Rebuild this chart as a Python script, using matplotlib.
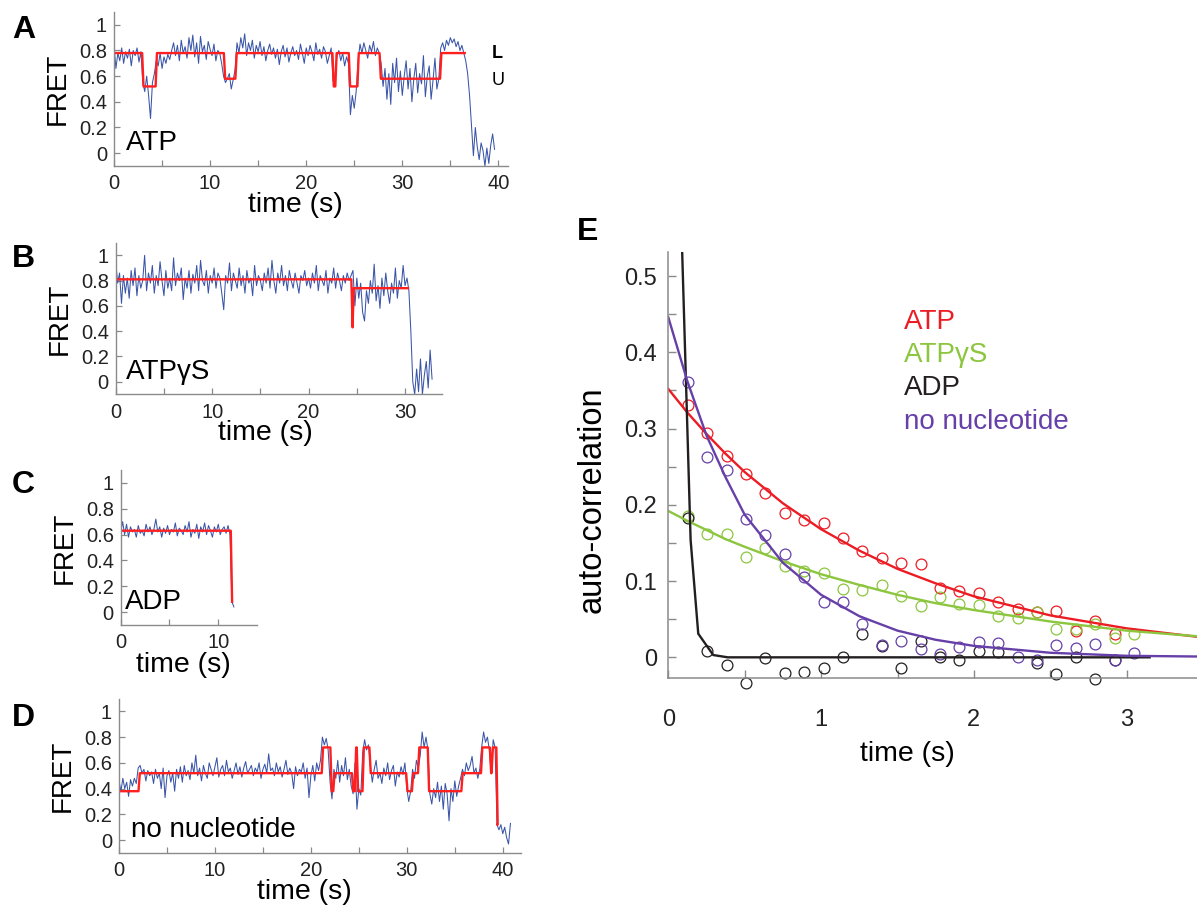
import numpy as np
import matplotlib
matplotlib.use('Agg')
import matplotlib.pyplot as plt
from matplotlib.ticker import MultipleLocator, FuncFormatter

plt.rcParams['font.family'] = ['Liberation Sans', 'DejaVu Sans']

# ---- single-molecule FRET traces, one frame every 0.2 s ----
DT = 0.2
atp_trace = [
    0.84, 0.66, 0.78, 0.72, 0.82, 0.70, 0.79, 0.74, 0.81, 0.68, 0.80, 0.76, 0.82, 0.71, 0.79,
    0.55, 0.48, 0.60, 0.45, 0.27, 0.55, 0.62,
    0.72, 0.68, 0.78, 0.66, 0.75, 0.70, 0.77, 0.73,
    0.80, 0.86, 0.76, 0.84, 0.72, 0.88, 0.78, 0.83, 0.74, 0.90,
    0.80, 0.92, 0.75, 0.86, 0.70, 0.91, 0.79, 0.84, 0.73, 0.87,
    0.81, 0.76, 0.85, 0.72, 0.80, 0.78, 0.70,
    0.60, 0.55, 0.58, 0.62, 0.50, 0.57, 0.65,
    0.86, 0.78, 0.90, 0.82, 0.93, 0.76, 0.86, 0.80, 0.88, 0.74,
    0.84, 0.79, 0.87, 0.76, 0.83, 0.72, 0.80, 0.85, 0.77, 0.82,
    0.74, 0.81, 0.69, 0.79, 0.84, 0.75, 0.82, 0.71, 0.78, 0.83,
    0.76, 0.80, 0.73, 0.85, 0.78, 0.70, 0.82, 0.76, 0.84, 0.79,
    0.72, 0.86, 0.77, 0.81, 0.74, 0.83, 0.79, 0.70, 0.76, 0.82,
    0.56, 0.60,
    0.76, 0.80, 0.72, 0.78, 0.68, 0.75, 0.70,
    0.30, 0.45, 0.35, 0.48,
    0.72, 0.85, 0.78, 0.86, 0.80, 0.74, 0.84, 0.79, 0.87, 0.76, 0.82, 0.78,
    0.70, 0.52, 0.66, 0.42, 0.62, 0.38, 0.70, 0.55, 0.74, 0.48,
    0.64, 0.45, 0.60, 0.72, 0.50, 0.66, 0.40, 0.58, 0.70, 0.47,
    0.62, 0.54, 0.76, 0.44, 0.60, 0.68, 0.42, 0.57, 0.74, 0.50, 0.58,
    0.82, 0.86, 0.80, 0.88, 0.84, 0.90, 0.86, 0.89, 0.83, 0.87, 0.80, 0.84, 0.78,
    0.72, 0.62, 0.45, 0.22,
    -0.02, 0.20, 0.05, -0.05, 0.08, 0.02, -0.10, 0.04, -0.08, 0.06, 0.15, 0.03,
]
atpgs_trace = [
    0.95, 0.78, 0.86, 0.62, 0.84, 0.70, 0.82, 0.66, 0.88, 0.76,
    0.90, 0.68, 0.84, 0.74, 0.80, 1.00, 0.72, 0.86, 0.78, 0.92,
    0.70, 0.84, 0.76, 0.95, 0.80, 0.68, 0.88, 0.74, 0.82, 0.72,
    0.98, 0.76, 0.86, 0.80, 0.90, 0.65, 0.82, 0.74, 0.88, 0.70,
    0.85, 0.78, 0.92, 0.72, 0.96, 0.80, 0.76, 0.88, 0.70, 0.84,
    0.78, 0.90, 0.74, 0.86, 0.82, 0.70, 0.57, 0.84, 0.78, 0.94,
    0.72, 0.86, 0.80, 0.74, 0.90, 0.76, 0.84, 0.70, 0.88, 0.78,
    0.82, 0.68, 0.92, 0.76, 0.84, 0.80, 0.72, 0.86, 0.78, 0.90,
    0.74, 0.96, 0.80, 0.70, 0.86, 0.78, 0.92, 0.76, 0.84, 0.72,
    0.88, 0.80, 0.74, 0.86, 0.78, 0.70, 0.84, 0.80, 0.88, 0.76,
    0.82, 0.74, 0.86, 0.78, 0.92, 0.72, 0.84, 0.80, 0.76, 0.88,
    0.70, 0.82, 0.78, 0.90, 0.74, 0.86, 0.80, 0.72, 0.84, 0.78,
    0.86, 0.80, 0.84,
    0.88, 0.60, 0.82, 0.66, 0.78, 0.55, 0.48, 0.72, 0.62, 0.80,
    0.70, 0.93, 0.64, 0.76, 0.58, 0.82, 0.68, 0.86, 0.72, 0.62,
    0.78, 0.70, 0.90, 0.66, 0.80, 0.74, 0.92, 0.76, 0.82,
    0.72, 0.40, 0.00,
    -0.10, 0.10, -0.08, 0.18, -0.10, 0.05, 0.16, -0.05, 0.25, 0.02,
]
adp_trace = [
    0.62, 0.70, 0.60, 0.68, 0.58, 0.66, 0.62, 0.64, 0.58, 0.67,
    0.61, 0.63, 0.59, 0.68, 0.62, 0.66, 0.60, 0.64, 0.72, 0.62,
    0.66, 0.58, 0.65, 0.61, 0.67, 0.60, 0.64, 0.62, 0.69, 0.59,
    0.65, 0.63, 0.60, 0.67, 0.62, 0.70, 0.58, 0.64, 0.61, 0.68,
    0.57, 0.66, 0.62, 0.69, 0.60, 0.67, 0.63, 0.58, 0.66, 0.62,
    0.68, 0.60, 0.64, 0.66, 0.61, 0.67, 0.60,
    0.08, 0.04,
]
none_trace = [
    0.46, 0.38, 0.48, 0.40, 0.45, 0.34, 0.47, 0.42, 0.48, 0.44,
    0.56, 0.58, 0.52, 0.55, 0.46, 0.54, 0.50, 0.53, 0.44, 0.55,
    0.48, 0.52, 0.40, 0.56, 0.33, 0.50, 0.54, 0.45, 0.52, 0.38,
    0.55, 0.48, 0.57, 0.45, 0.58, 0.50, 0.54, 0.47, 0.60, 0.52,
    0.66, 0.50, 0.56, 0.46, 0.58, 0.52, 0.48, 0.60, 0.55, 0.50,
    0.57, 0.64, 0.49, 0.55, 0.58, 0.50, 0.62, 0.53, 0.56, 0.48,
    0.54, 0.60, 0.51, 0.57, 0.49, 0.56, 0.61, 0.52, 0.55, 0.58,
    0.50, 0.56, 0.53, 0.60, 0.48, 0.55, 0.59, 0.52, 0.67, 0.54,
    0.56, 0.50, 0.60, 0.53, 0.57, 0.49, 0.55, 0.62, 0.51, 0.56,
    0.52, 0.40, 0.57, 0.50, 0.55, 0.53, 0.60, 0.48, 0.56, 0.33,
    0.50, 0.58, 0.46, 0.60, 0.54,
    0.62, 0.80, 0.74, 0.79, 0.70,
    0.45, 0.32,
    0.55, 0.48, 0.62, 0.45, 0.58, 0.50, 0.64, 0.47, 0.55, 0.42,
    0.36, 0.60, 0.24, 0.40, 0.35,
    0.68, 0.78, 0.70, 0.74,
    0.58, 0.45, 0.55, 0.62, 0.48, 0.52, 0.44, 0.56, 0.50, 0.60,
    0.47, 0.54, 0.58, 0.42, 0.53, 0.49, 0.57, 0.51, 0.60,
    0.40, 0.30, 0.38,
    0.55, 0.48, 0.62, 0.56,
    0.66, 0.84, 0.72, 0.80, 0.70,
    0.36, 0.28, 0.40, 0.33, 0.45, 0.30, 0.42, 0.24, 0.44, 0.36,
    0.15, 0.40, 0.30, 0.46, 0.34, 0.42, 0.48,
    0.55, 0.50, 0.60, 0.54, 0.58, 0.65, 0.52, 0.56, 0.48, 0.55,
    0.72, 0.84, 0.76, 0.80, 0.70,
    0.52,
    0.78, 0.72,
    0.12, 0.08, 0.12, 0.05, 0.10, 0.02, -0.03, 0.13,
]

# idealized state paths: dwell start times (s), FRET level, end time
atp_state_t = [0, 3.0, 4.4, 11.5, 12.7, 22.8, 23.1, 24.5, 25.4, 27.7, 34.0]
atp_state_v = [0.78, 0.52, 0.78, 0.58, 0.78, 0.52, 0.78, 0.52, 0.78, 0.58, 0.78]
atp_state_end = 36.5
atpgs_state_t = [0, 24.5, 24.62]
atpgs_state_v = [0.81, 0.43, 0.74]
atpgs_state_end = 30.3
adp_state_t = [0, 11.35]
adp_state_v = [0.63, 0.08]
adp_state_end = 11.42
none_state_t = [0, 2.1, 21.2, 22.1, 22.4, 24.35, 24.65, 24.85, 25.45, 26.17, 30.0, 30.6,
                31.23, 32.25, 35.75, 37.8, 38.72, 38.9, 39.4]
none_state_v = [0.38, 0.52, 0.72, 0.38, 0.52, 0.38, 0.72, 0.38, 0.72, 0.52, 0.38, 0.52,
                0.72, 0.38, 0.52, 0.72, 0.52, 0.72, 0.12]
none_state_end = 39.45

# ---- autocorrelation (panel E) ----
AC_DT = 0.127
ac_atp = [0.331, 0.294, 0.264, 0.240, 0.215, 0.189, 0.180, 0.176, 0.157, 0.139, 0.130, 0.124,
          0.123, 0.091, 0.087, 0.085, 0.073, 0.063, 0.060, 0.061, 0.035, 0.048, 0.030]
ac_atpgs = [0.186, 0.162, 0.162, 0.131, 0.143, 0.120, 0.113, 0.111, 0.090, 0.088, 0.095, 0.081,
            0.067, 0.079, 0.070, 0.069, 0.054, 0.051, 0.060, 0.037, 0.037, 0.044, 0.026, 0.030]
ac_adp = [0.183, 0.008, -0.010, -0.034, -0.001, -0.020, -0.019, -0.014, 0.001, 0.030, 0.015, -0.014,
          0.022, 0.001, -0.003, 0.008, 0.007, np.nan, -0.007, -0.022, 0.001, -0.029, -0.004]
ac_none = [0.361, 0.263, 0.246, 0.181, 0.160, 0.136, 0.105, 0.072, 0.073, 0.044, 0.016, 0.022,
           0.011, 0.004, 0.013, 0.020, 0.019, 0.000, -0.003, 0.016, 0.012, 0.018, -0.004, 0.006]

fit_t = [0, 0.125, 0.25, 0.375, 0.5, 0.75, 1.0, 1.25, 1.5, 1.75, 2.0, 2.5, 3.0, 3.5]
fit_atp = [0.352, 0.321, 0.293, 0.267, 0.243, 0.202, 0.168, 0.140, 0.116, 0.097, 0.080, 0.055, 0.038, 0.026]
fit_atpgs = [0.192, 0.179, 0.167, 0.155, 0.145, 0.126, 0.109, 0.095, 0.082, 0.071, 0.062, 0.047, 0.035, 0.027]
fit_none = [0.446, 0.362, 0.291, 0.236, 0.187, 0.124, 0.082, 0.054, 0.035, 0.023, 0.015, 0.006, 0.002, 0.001]
fit_adp_t = [0.075, 0.146, 0.196, 0.294, 0.39, 3.15]
fit_adp = [0.64, 0.154, 0.031, 0.003, 0.0, 0.0]

BLUE = '#3a55a8'
RED = '#ff1f1f'
C_ATP = '#ec1c24'
C_ATPGS = '#8cc63f'
C_ADP = '#231f20'
C_NONE = '#6640a8'
GRAY = '#8a8a8a'

W, H = 1197, 907
fig = plt.figure(figsize=(W / 100, H / 100), dpi=100)


def px_axes(l, r, t, b):
    return fig.add_axes([l / W, 1 - b / H, (r - l) / W, (b - t) / H])


def state_path(starts, levels, end, h=0.07):
    xs, ys = [starts[0]], [levels[0]]
    for i in range(1, len(starts)):
        xs += [starts[i] - h, starts[i] + h]
        ys += [levels[i - 1], levels[i]]
    xs.append(end)
    ys.append(levels[-1])
    return xs, ys


def gfmt(v, pos):
    return f'{v:g}'


def trace_panel(rect, trace, st, sv, send, xmax, label, letter, letter_y):
    ax = px_axes(*rect)
    t = np.arange(len(trace)) * DT
    ax.plot(t, trace, color=BLUE, lw=0.75)
    xs, ys = state_path(st, sv, send)
    ax.plot(xs, ys, color=RED, lw=1.7)
    ax.set_xlim(0, xmax)
    ax.set_ylim(-0.1, 1.1)
    ax.xaxis.set_major_locator(MultipleLocator(10))
    ax.xaxis.set_minor_locator(MultipleLocator(5))
    ax.yaxis.set_major_locator(MultipleLocator(0.2))
    ax.yaxis.set_major_formatter(FuncFormatter(gfmt))
    for s in ['top', 'right']:
        ax.spines[s].set_visible(False)
    for s in ['left', 'bottom']:
        ax.spines[s].set_color(GRAY)
        ax.spines[s].set_linewidth(1.0)
    ax.tick_params(which='both', direction='in', color=GRAY, length=4, width=0.9,
                   labelsize=14.5, labelcolor='#222222')
    ax.tick_params(axis='x', which='both', pad=6)
    ax.tick_params(axis='y', which='both', pad=5)
    ax.set_xlabel('time (s)', fontsize=20.5, labelpad=0)
    ax.xaxis.set_label_coords(0.46, -0.255)
    ax.xaxis.label.set_va('center')
    ax.set_ylabel('FRET', fontsize=20, labelpad=6)
    ax.text(0.03, 0.15, label, transform=ax.transAxes, fontsize=20, va='center', ha='left')
    fig.text(12 / W, 1 - letter_y / H, letter, fontsize=23, fontweight='bold', va='baseline')
    return ax


axA = trace_panel((114, 508, 12, 166), atp_trace, atp_state_t, atp_state_v, atp_state_end,
                  41.0, 'ATP', 'A', 38)
axA.text(39.3, 0.78, 'L', fontsize=13, fontweight='bold', va='center', ha='left')
axA.text(39.3, 0.57, 'U', fontsize=13, va='center', ha='left')
trace_panel((115.7, 441.7, 242.7, 394.3), atpgs_trace, atpgs_state_t, atpgs_state_v,
            atpgs_state_end, 33.8, 'ATPγS', 'B', 267)
trace_panel((120.7, 257.3, 470, 625), adp_trace, adp_state_t, adp_state_v, adp_state_end,
            14.0, 'ADP', 'C', 493)
trace_panel((119, 521, 698.5, 853), none_trace, none_state_t, none_state_v, none_state_end,
            41.9, 'no nucleotide', 'D', 726)

# ---- panel E ----
axE = px_axes(668.3, 1197, 251.7, 678.3)
series = [(ac_atp, fit_t, fit_atp, C_ATP),
          (ac_atpgs, fit_t, fit_atpgs, C_ATPGS),
          (ac_adp, fit_adp_t, fit_adp, C_ADP),
          (ac_none, fit_t, fit_none, C_NONE)]
for pts, ft, fv, col in series:
    lag = (np.arange(len(pts)) + 1) * AC_DT
    axE.plot(lag, pts, 'o', ms=7.8, mfc='none', mec=col, mew=0.9, clip_on=False)
for pts, ft, fv, col in series:
    axE.plot(ft, fv, color=col, lw=1.7)

axE.set_xlim(0, 3.46)
axE.set_ylim(-0.0275, 0.532)
axE.xaxis.set_major_locator(MultipleLocator(1))
axE.xaxis.set_minor_locator(MultipleLocator(0.5))
axE.yaxis.set_major_locator(MultipleLocator(0.1))
axE.yaxis.set_minor_locator(MultipleLocator(0.05))
axE.yaxis.set_major_formatter(FuncFormatter(gfmt))
for s in ['top', 'right']:
    axE.spines[s].set_visible(False)
for s in ['left', 'bottom']:
    axE.spines[s].set_color(GRAY)
    axE.spines[s].set_linewidth(1.1)
axE.tick_params(which='both', direction='in', color=GRAY, length=6, width=1.0,
                labelsize=17, labelcolor='#222222')
axE.tick_params(axis='x', which='both', pad=22)
axE.tick_params(axis='y', which='both', pad=8)
axE.set_xlabel('time (s)', fontsize=20.5)
axE.xaxis.set_label_coords(0.453, -0.177)
axE.xaxis.label.set_va('center')
axE.set_ylabel('auto-correlation', fontsize=23.5)
axE.yaxis.set_label_coords(-0.145, 0.418)
axE.yaxis.label.set_va('center')

legend_names = ['ATP', 'ATPγS', 'ADP', 'no nucleotide']
legend_cols = [C_ATP, C_ATPGS, C_ADP, C_NONE]
legend_y = [0.44, 0.396, 0.353, 0.309]
for name, col, ly in zip(legend_names, legend_cols, legend_y):
    axE.text(1.54, ly, name, color=col, fontsize=20, va='center', ha='left')
fig.text(577 / W, 1 - 240 / H, 'E', fontsize=23, fontweight='bold', va='baseline')

fig.savefig('out.png', dpi=100)
